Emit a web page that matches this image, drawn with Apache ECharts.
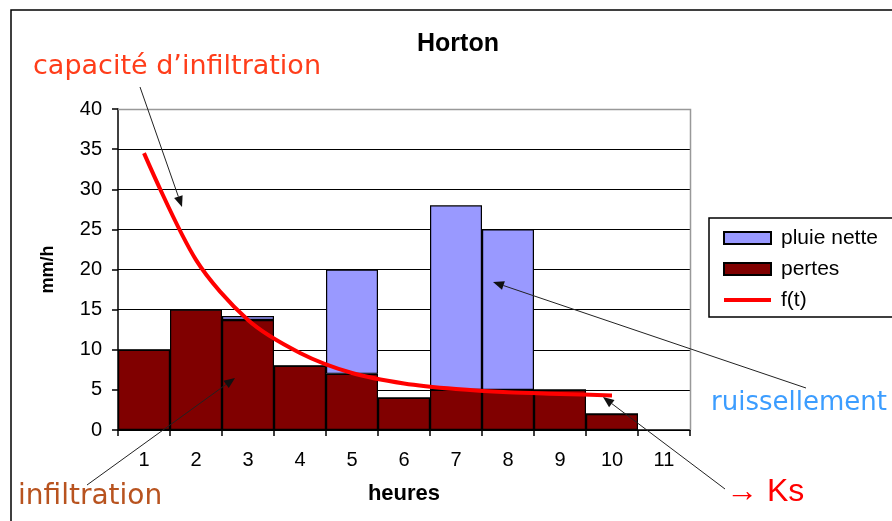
<!DOCTYPE html>
<html>
<head>
<meta charset="utf-8">
<script src="https://cdn.jsdelivr.net/npm/echarts@6/dist/echarts.min.js"></script>
<style>
  html, body { margin: 0; padding: 0; background: #fff; }
  #chart { width: 892px; height: 521px; }
</style>
</head>
<body>
<div id="chart"></div>
<script>
// données
const heures = ['1', '2', '3', '4', '5', '6', '7', '8', '9', '10', '11'];
const pertes = [10, 15, 13.7, 8, 7, 4, 5, 5, 5, 2, null];
const pluieNette = [0, 0, 0.5, 0, 13, 0, 23, 20, 0, 0, null];
const ft = [34.5, 21.2, 13.7, 9.6, 7.1, 5.8, 5.1, 4.7, 4.5, 4.3, null];
const yTicks = { min: 0, max: 40, interval: 5 };

// petite flèche d'annotation (trait + pointe)
function arrow(x1, y1, x2, y2) {
  const a = Math.atan2(y2 - y1, x2 - x1);
  const L = 11, W = 4.5;
  const bx = x2 - L * Math.cos(a), by = y2 - L * Math.sin(a);
  return [
    { type: 'line', shape: { x1: x1, y1: y1, x2: bx, y2: by }, style: { stroke: '#222', lineWidth: 1 }, z: 100 },
    { type: 'polygon', shape: { points: [[x2, y2], [bx - W * Math.sin(a), by + W * Math.cos(a)], [bx + W * Math.sin(a), by - W * Math.cos(a)]] }, style: { fill: '#111' }, z: 100 }
  ];
}

function note(x, y, txt, size, color, family) {
  return {
    type: 'text', z: 100,
    style: { x: x, y: y, text: txt, font: size + 'px ' + family, fill: color, verticalAlign: 'middle' }
  };
}

const annotFont = '"DejaVu Sans", sans-serif';
const axisFont = 'Arial, "Liberation Sans", sans-serif';

let myChart = echarts.init(document.getElementById('chart'));
let options = {
  animation: false,
  backgroundColor: '#fff',
  title: {
    text: 'Horton',
    left: 412,
    top: 27,
    textStyle: { fontFamily: axisFont, fontSize: 25, fontWeight: 'bold', color: '#000' }
  },
  grid: { left: 118, right: 202, top: 109, bottom: 91 },
  legend: {
    orient: 'vertical',
    left: 717,
    top: 222,
    itemWidth: 47,
    itemHeight: 12,
    itemGap: 9,
    textStyle: { fontFamily: axisFont, fontSize: 21, color: '#000', lineHeight: 22, padding: [0, 0, 0, 5] },
    data: [
      { name: 'pluie nette', icon: 'rect' },
      { name: 'pertes', icon: 'rect' },
      { name: 'f(t)', itemStyle: { color: 'rgba(0,0,0,0)', borderWidth: 0 }, lineStyle: { width: 4 } }
    ]
  },
  xAxis: {
    type: 'category',
    data: heures,
    name: 'heures',
    nameLocation: 'middle',
    nameGap: 53,
    nameTextStyle: { fontFamily: axisFont, fontSize: 22, fontWeight: 'bold', color: '#000' },
    boundaryGap: true,
    axisLine: { lineStyle: { color: '#000', width: 1.5 } },
    axisTick: { show: true, length: 6, lineStyle: { color: '#000', width: 1.5 } },
    axisLabel: { fontFamily: axisFont, fontSize: 20, color: '#000', margin: 20 },
    splitLine: { show: false }
  },
  yAxis: {
    type: 'value',
    min: yTicks.min,
    max: yTicks.max,
    interval: yTicks.interval,
    name: 'mm/h',
    nameLocation: 'middle',
    nameRotate: 90,
    nameGap: 61,
    nameTextStyle: { fontFamily: axisFont, fontSize: 18, fontWeight: 'bold', color: '#000' },
    axisLine: { show: true, lineStyle: { color: '#000', width: 1.5 } },
    axisTick: { show: true, length: 6, lineStyle: { color: '#000', width: 1.5 } },
    axisLabel: { fontFamily: axisFont, fontSize: 20, color: '#000', margin: 16 },
    splitLine: { show: true, lineStyle: { color: '#000', width: 1 } }
  },
  series: [
    {
      name: 'pertes',
      type: 'bar',
      stack: 'pluie',
      data: pertes,
      barCategoryGap: '0%',
      itemStyle: { color: '#800000', borderColor: '#000', borderWidth: 1.2 }
    },
    {
      name: 'pluie nette',
      type: 'bar',
      stack: 'pluie',
      data: pluieNette,
      barCategoryGap: '0%',
      itemStyle: { color: '#9999ff', borderColor: '#000', borderWidth: 1.2 }
    },
    {
      name: 'f(t)',
      type: 'line',
      data: ft,
      smooth: 0.3,
      symbol: 'none',
      z: 10,
      itemStyle: { color: '#ff0000' },
      lineStyle: { color: '#ff0000', width: 4 }
    }
  ],
  graphic: [
    // cadre extérieur
    { type: 'rect', shape: { x: 11, y: 10, width: 1000, height: 1000 }, style: { fill: null, stroke: '#000', lineWidth: 1.5 }, z: -1, silent: true },
    // bord gris de la zone de tracé
    { type: 'polyline', shape: { points: [[118, 109.5], [690.5, 109.5], [690.5, 430]] }, style: { stroke: '#999', lineWidth: 1.5, fill: null }, z: 5 },
    // cadre de la légende
    { type: 'rect', shape: { x: 709, y: 218, width: 200, height: 99 }, style: { fill: null, stroke: '#000', lineWidth: 1.5 }, z: 5 },
    // annotations
    note(33, 67, 'capacité d\u2019infiltration', 27, '#ff3d1a', annotFont),
    note(18, 497, 'infiltration', 28, '#b8531f', annotFont),
    note(711, 403, 'ruissellement', 26, '#3c9dff', annotFont),
    note(726, 492, '\u2192 Ks', 32, '#ff0000', axisFont)
  ].concat(arrow(140, 87, 182, 207))
   .concat(arrow(87, 485, 235, 378))
   .concat(arrow(806, 388, 493, 282))
   .concat(arrow(725, 489, 603, 397))
};
myChart.setOption(options);
</script>
</body>
</html>
